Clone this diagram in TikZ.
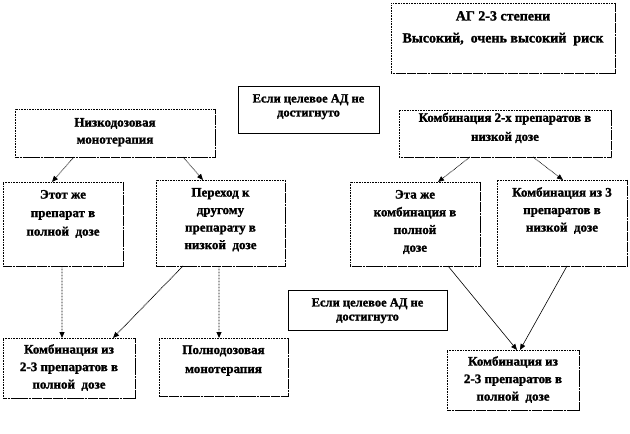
\documentclass[tikz,border=0pt]{standalone}
\usepackage{fontspec}
\setmainfont{Liberation Serif}[BoldFeatures={FakeBold=1.5}]
\usetikzlibrary{arrows.meta}
\newcommand{\bxc}[4]{\parbox[c][#2bp][t]{#1bp}{\centering\rule{0pt}{#3bp}#4\par}}
\newcommand{\fs}[2]{\fontsize{#1bp}{#2bp}\selectfont\bfseries}
\tikzset{
  dotbox/.style={draw=black, line width=0.6bp, dash pattern=on 0.8bp off 0.8bp, inner sep=0pt, outer sep=0pt},
  solbox/.style={draw=black, line width=0.7bp, inner sep=0pt, outer sep=0pt},
  dotshadow/.style={draw=black, line width=0.9bp, dash pattern=on 0.8bp off 0.6bp},
  solshadow/.style={draw=black, line width=1.3bp},
  arr/.style={-{Triangle[length=6bp,width=5bp]}, line width=0.7bp, dash pattern=on 0.8bp off 0.7bp},
  arrs/.style={-{Triangle[length=6bp,width=5bp]}, line width=0.6bp}
}
\begin{document}
\begin{tikzpicture}[x=1bp,y=-1bp]
\useasboundingbox (0,0) rectangle (630,434);
% boxes
\node[dotbox] (A) at (503,38) {\fs{14}{22}\bxc{224}{70}{17.5}{АГ 2-3 степени\\Высокий,~~очень высокий~~риск}};
\node[solbox] (B) at (308.5,109.5) {\fs{12.5}{14}\bxc{141}{47}{16.5}{Если целевое АД не\\достигнуто}};
\node[dotbox] (C) at (115,133) {\fs{13}{17}\bxc{200}{48}{17.6}{Низкодозовая\\монотерапия}};
\node[dotbox] (D) at (505,133.5) {\fs{12.8}{19}\bxc{212}{47}{11.8}{Комбинация 2-х препаратов в\\низкой дозе}};
\node[dotbox] (E) at (63,224) {\fs{13}{18.5}\bxc{120}{84}{16.6}{Этот же\\препарат в\\полной~~дозе}};
\node[dotbox] (F) at (220.5,223) {\fs{13}{17.5}\bxc{129}{86}{16.6}{Переход к\\другому\\препарату в\\низкой~~дозе}};
\node[dotbox] (G) at (415,224) {\fs{13}{17.7}\bxc{130}{84}{16.6}{Эта же\\комбинация в\\полной\\дозе}};
\node[dotbox] (H) at (562,223) {\fs{13}{17.5}\bxc{130}{86}{16.6}{Комбинация из 3\\препаратов в\\низкой~~дозе}};
\node[solbox] (I) at (367.5,310) {\fs{12.5}{14}\bxc{159}{40}{16.5}{Если целевое АД не\\достигнуто}};
\node[dotbox] (J) at (69,368) {\fs{13}{17.5}\bxc{132}{60}{15.6}{Комбинация из\\2-3 препаратов в\\полной~~дозе}};
\node[dotbox] (K) at (223.5,367) {\fs{13}{19}\bxc{129}{58}{16}{Полнодозовая\\монотерапия}};
\node[dotbox] (L) at (513,380) {\fs{13}{17.5}\bxc{132}{60}{15.6}{Комбинация из\\2-3 препаратов в\\полной~~дозе}};
% shadows
\foreach \n in {A,C,D,E,F,G,H,J,K,L}
  \draw[dotshadow] ([xshift=0.6bp]\n.north east) -- ([xshift=0.6bp,yshift=-0.6bp]\n.south east) -- ([yshift=-0.6bp]\n.south west);
\foreach \n in {B,I}
  \draw[solshadow] ([xshift=0.3bp]\n.north east) -- ([xshift=0.3bp,yshift=-0.3bp]\n.south east) -- ([yshift=-0.3bp]\n.south west);
% connectors
\draw[arr] ([xshift=59bp]C.south west) -- ([xshift=49bp]E.north west);
\draw[arr] ([xshift=168bp]C.south west) -- ([xshift=47bp]F.north west);
\draw[arr] ([xshift=71bp]D.south west) -- ([xshift=88bp]G.north west);
\draw[arr] ([xshift=134bp]D.south west) -- ([xshift=66bp]H.north west);
\draw[arr, line width=0.9bp] ([xshift=59bp]E.south west) -- ([xshift=59bp]J.north west);
\draw[arr, line width=0.9bp] ([xshift=27bp]F.south west) -- ([xshift=110bp]J.north west);
\draw[arr, line width=0.9bp] ([xshift=63bp]F.south west) -- ([xshift=60bp]K.north west);
\draw[arrs] ([xshift=98bp]G.south west) -- ([xshift=70bp]L.north west);
\draw[arrs] ([xshift=70bp]H.south west) -- ([xshift=73bp]L.north west);
\end{tikzpicture}
\end{document}
